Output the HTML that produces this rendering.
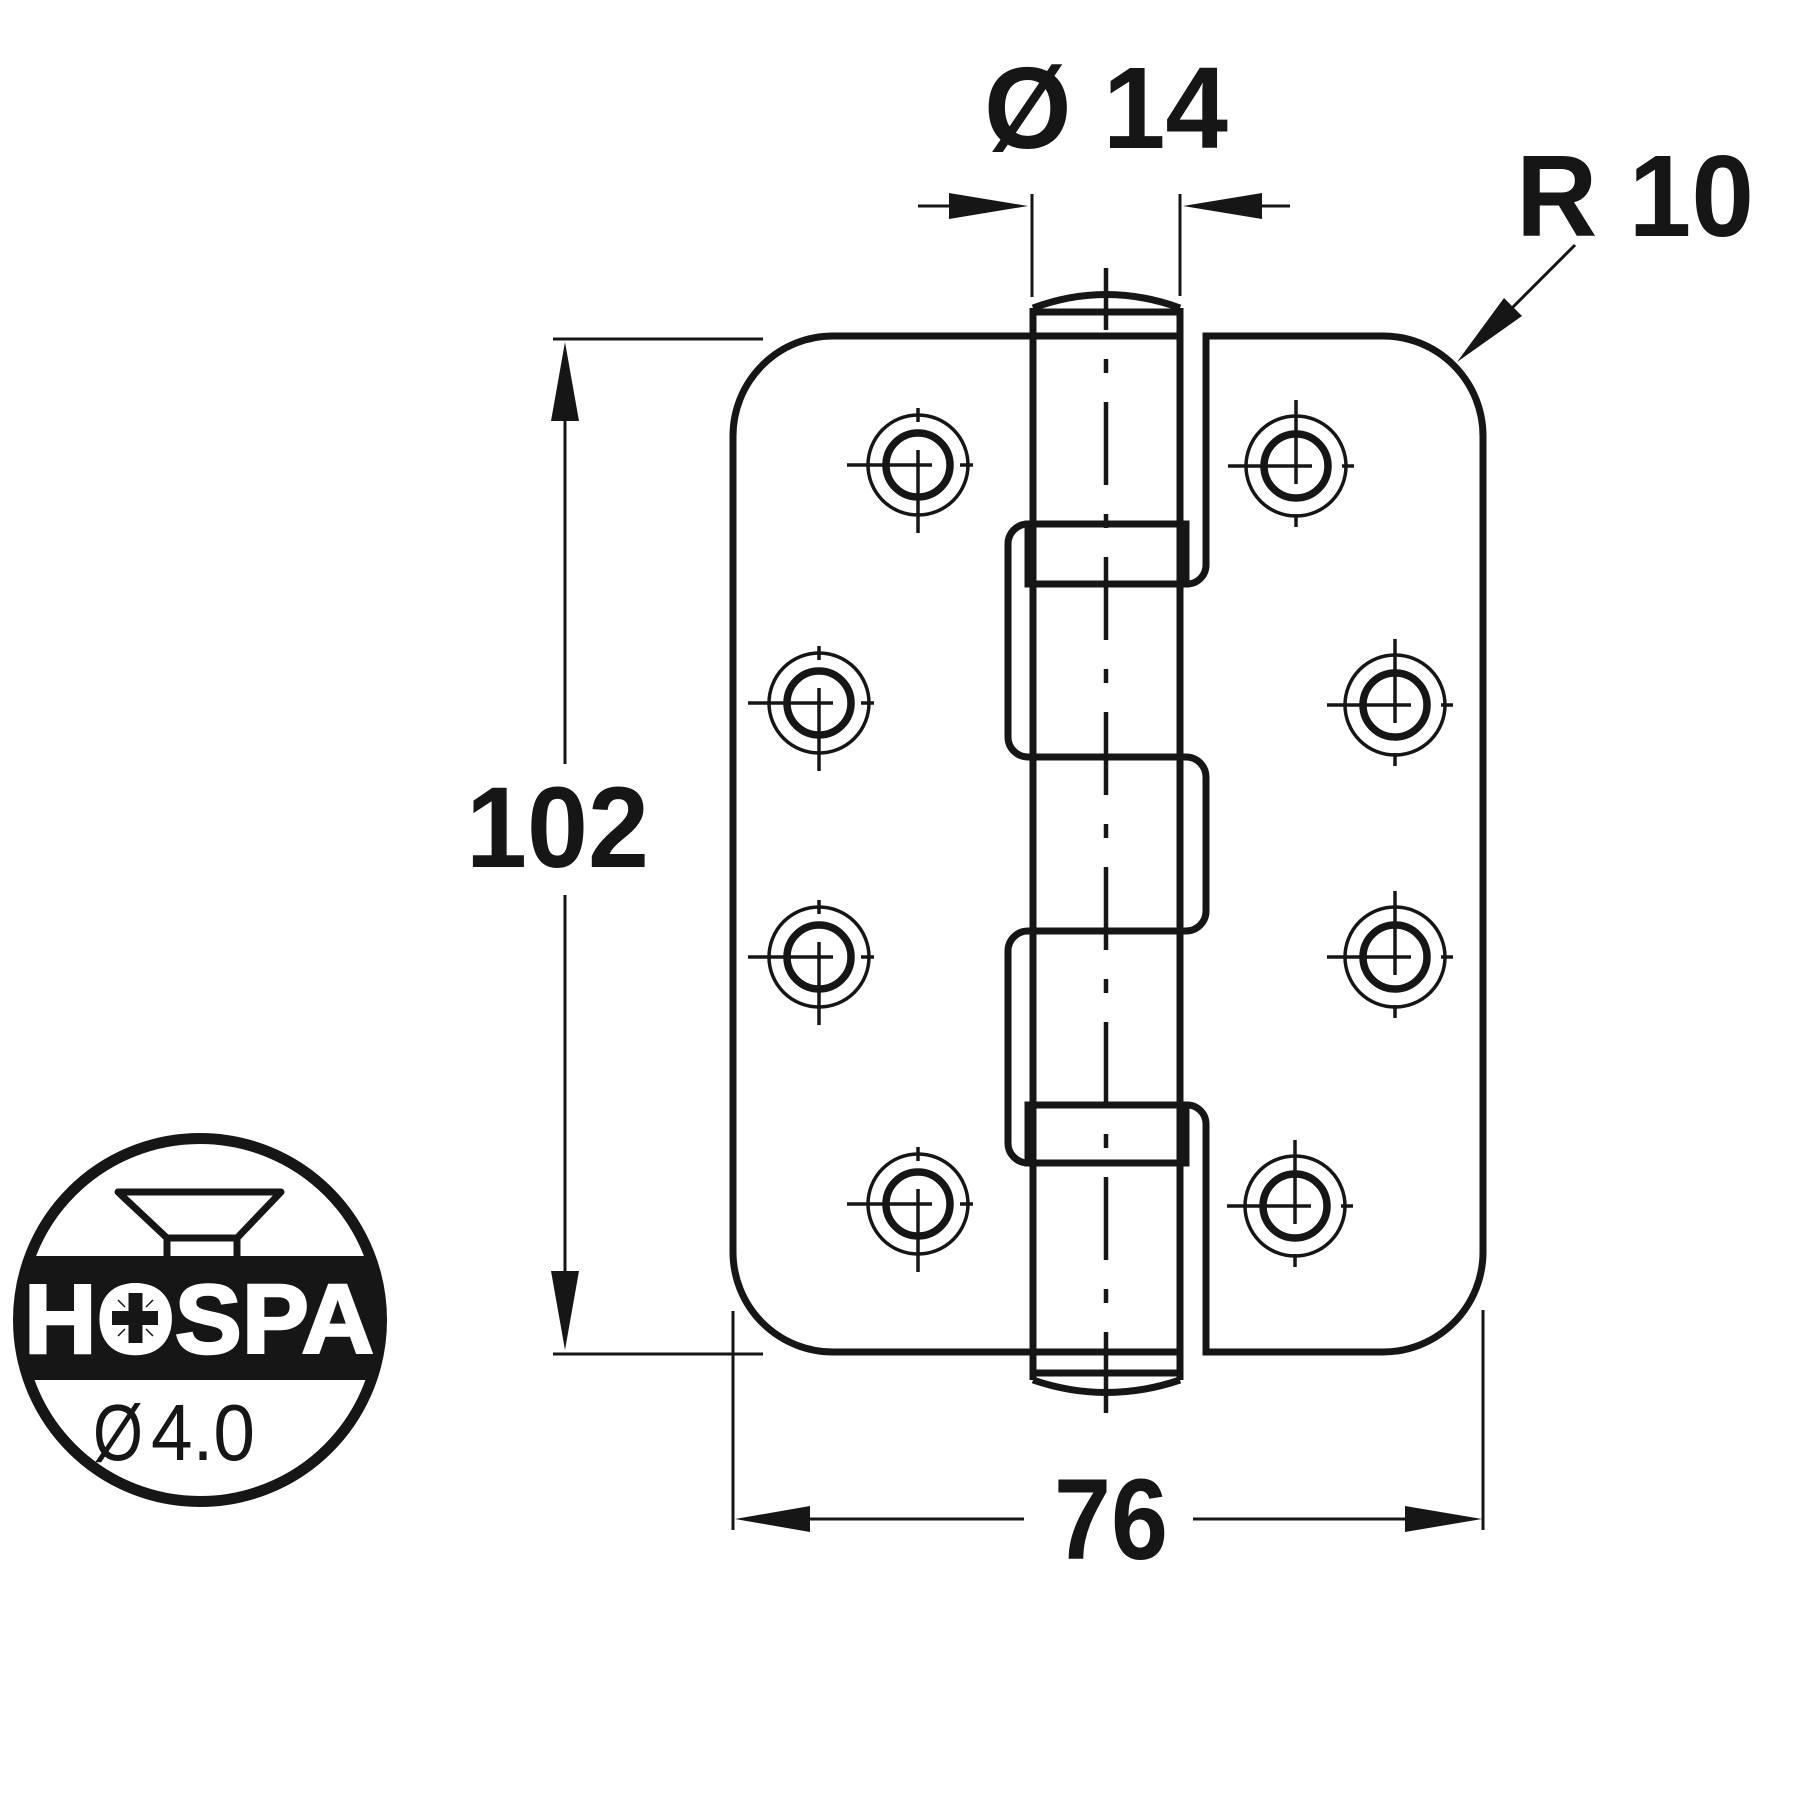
<!DOCTYPE html>
<html>
<head>
<meta charset="utf-8">
<style>
  html,body{margin:0;padding:0;background:#fff;}
  svg{display:block;}
  text{font-family:"Liberation Sans", Arial, sans-serif;}
</style>
</head>
<body>
<svg width="1806" height="1806" viewBox="0 0 1806 1806" xmlns="http://www.w3.org/2000/svg">
  <rect width="1806" height="1806" fill="#fff"/>
  <defs>
    <clipPath id="cc"><circle cx="200" cy="1320" r="181"/></clipPath>
  </defs>

  <g fill="none" stroke="#161616" stroke-width="7" stroke-linejoin="miter">
    <path d="M1180,336 H833 A100,100 0 0 0 733,436 V1252 A100,100 0 0 0 833,1352 H1180"/>
    <path d="M1187,584 A19,19 0 0 0 1206,565 V336 H1383 A100,100 0 0 1 1483,436 V1252 A100,100 0 0 1 1383,1352 H1206 V1124 A19,19 0 0 0 1187,1105"/>
    <path d="M1028,524 A20,20 0 0 0 1008,544 V737 A20,20 0 0 0 1028,757 H1186 A20,20 0 0 1 1206,777 V911 A20,20 0 0 1 1186,931 H1028 A20,20 0 0 0 1008,951 V1143 A20,20 0 0 0 1028,1163"/>
    <rect x="1028" y="524" width="158" height="60"/>
    <rect x="1028" y="1105" width="158" height="58"/>
    <path d="M1033,308 V1380 M1180,308 V1380"/>
    <path d="M1033,308 Q1106,281 1180,308"/>
    <path d="M1033,1380 Q1106,1405 1180,1380"/>
    <path d="M1033,312 H1180 M1033,1373 H1180"/>
  </g>

  <line x1="1106" y1="268" x2="1106" y2="1413" stroke="#161616" stroke-width="4.5" stroke-dasharray="83 29 14 29" stroke-dashoffset="21"/>

  <g fill="none" stroke="#161616">
    <g transform="translate(918,465)">
      <circle r="50" stroke-width="3.5"/><circle r="32" stroke-width="7.5"/>
      <path d="M-71,0 H14 M42,0 H55 M0,-57 V-43 M0,-15 V68" stroke-width="3.5"/>
    </g>
    <g transform="translate(819,703)">
      <circle r="50" stroke-width="3.5"/><circle r="32" stroke-width="7.5"/>
      <path d="M-71,0 H14 M42,0 H55 M0,-57 V-43 M0,-15 V68" stroke-width="3.5"/>
    </g>
    <g transform="translate(819,957)">
      <circle r="50" stroke-width="3.5"/><circle r="32" stroke-width="7.5"/>
      <path d="M-71,0 H14 M42,0 H55 M0,-57 V-43 M0,-15 V68" stroke-width="3.5"/>
    </g>
    <g transform="translate(918,1204)">
      <circle r="50" stroke-width="3.5"/><circle r="32" stroke-width="7.5"/>
      <path d="M-71,0 H14 M42,0 H55 M0,-57 V-43 M0,-15 V68" stroke-width="3.5"/>
    </g>
    <g transform="translate(1296,466)">
      <circle r="50" stroke-width="3.5"/><circle r="32" stroke-width="7.5"/>
      <path d="M-68,0 H16 M46,0 H58 M0,-66 V18 M0,48 V61" stroke-width="3.5"/>
    </g>
    <g transform="translate(1395,705)">
      <circle r="50" stroke-width="3.5"/><circle r="32" stroke-width="7.5"/>
      <path d="M-68,0 H16 M46,0 H58 M0,-66 V18 M0,48 V61" stroke-width="3.5"/>
    </g>
    <g transform="translate(1395,957)">
      <circle r="50" stroke-width="3.5"/><circle r="32" stroke-width="7.5"/>
      <path d="M-68,0 H16 M46,0 H58 M0,-66 V18 M0,48 V61" stroke-width="3.5"/>
    </g>
    <g transform="translate(1295,1206)">
      <circle r="50" stroke-width="3.5"/><circle r="32" stroke-width="7.5"/>
      <path d="M-68,0 H16 M46,0 H58 M0,-66 V18 M0,48 V61" stroke-width="3.5"/>
    </g>
  </g>

  <g stroke="#161616" stroke-width="3" fill="none">
    <line x1="1032" y1="194" x2="1032" y2="297"/>
    <line x1="1180" y1="194" x2="1180" y2="296"/>
    <line x1="918" y1="206" x2="952" y2="206"/>
    <line x1="1259" y1="206" x2="1290" y2="206"/>
    <line x1="553" y1="339" x2="763" y2="339"/>
    <line x1="553" y1="1354" x2="763" y2="1354"/>
    <line x1="565" y1="418" x2="565" y2="764"/>
    <line x1="565" y1="895" x2="565" y2="1274"/>
    <line x1="733" y1="1311" x2="733" y2="1530"/>
    <line x1="1483" y1="1310" x2="1483" y2="1530"/>
    <line x1="807" y1="1519" x2="1024" y2="1519"/>
    <line x1="1193" y1="1519" x2="1408" y2="1519"/>
    <line x1="1575" y1="245" x2="1510" y2="310"/>
  </g>
  <g fill="#161616" stroke="none">
    <polygon points="1028,206 949,193 949,219"/>
    <polygon points="1183,206 1262,193 1262,219"/>
    <polygon points="565,342 551,421 579,421"/>
    <polygon points="565,1350 551,1271 579,1271"/>
    <polygon points="735,1519 810,1506 810,1532"/>
    <polygon points="1482,1519 1405,1506 1405,1532"/>
    <polygon points="1457,362 1522,316 1504,298"/>
  </g>

  <g fill="#161616" font-weight="bold">
    <text x="1106" y="148" font-size="116" text-anchor="middle" textLength="244" lengthAdjust="spacingAndGlyphs">Ø 14</text>
    <text x="1635" y="236" font-size="116" text-anchor="middle" textLength="238" lengthAdjust="spacingAndGlyphs">R 10</text>
    <text x="466" y="867" font-size="115" textLength="183" lengthAdjust="spacingAndGlyphs">102</text>
    <text x="1054" y="1559" font-size="115" textLength="114" lengthAdjust="spacingAndGlyphs">76</text>
  </g>

  <g>
    <rect x="0" y="1256" width="400" height="124" fill="#161616" clip-path="url(#cc)"/>
    <circle cx="200" cy="1320" r="181.5" fill="none" stroke="#161616" stroke-width="11"/>
    <path d="M118,1192 H281 L237,1238 H167 Z" fill="none" stroke="#161616" stroke-width="7" stroke-linejoin="round"/>
    <path d="M167,1238 V1258 M237,1238 V1258" stroke="#161616" stroke-width="7"/>
    <text x="24" y="1353" font-size="98" font-weight="bold" fill="#fff" stroke="#fff" stroke-width="2.5" textLength="350" lengthAdjust="spacingAndGlyphs">HOSPA</text>
    <circle cx="135" cy="1318" r="35" fill="#fff"/>
    <rect x="112" y="1311" width="46" height="14" fill="#161616"/>
    <rect x="128.5" y="1293" width="14" height="50" fill="#161616"/>
    <path d="M146,1307 L153,1300 M125,1307 L118,1300 M146,1329 L153,1336 M125,1329 L118,1336" stroke="#161616" stroke-width="1.5"/>
    <text x="93" y="1460" font-size="80" fill="#161616" textLength="50" lengthAdjust="spacingAndGlyphs">Ø</text>
    <text x="151" y="1460" font-size="80" fill="#161616" textLength="104" lengthAdjust="spacingAndGlyphs">4.0</text>
  </g>
</svg>
</body>
</html>
